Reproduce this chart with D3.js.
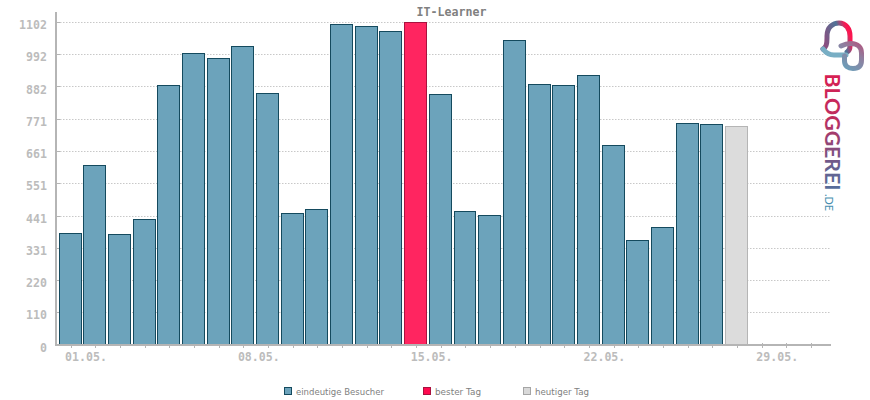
<!DOCTYPE html>
<html><head><meta charset="utf-8">
<script src="https://cdn.jsdelivr.net/npm/d3@7"></script>
<style>html,body{margin:0;padding:0;background:#fff}svg{display:block}</style></head><body>
<svg id="c" width="870" height="400"></svg>
<script>
const chartTitle = "IT-Learner";
const days = d3.range(1, 32);
const visitors = [382,614,379,430,887,996,979,1020,860,450,464,1095,1088,1071,1102,856,457,443,1040,890,887,921,682,358,402,757,754,747,0,0,0];
const bestIndex = 14;
const todayIndex = 27;
const yTickValues = [0,110.2,220.4,330.6,440.8,551,661.2,771.4,881.6,991.8,1102];
const yTickLabels = ["0","110","220","331","441","551","661","771","882","992","1102"];
const xLabels = {1:"01.05.",8:"08.05.",15:"15.05.",22:"22.05.",29:"29.05."};
const legendItems = ["eindeutige Besucher","bester Tag","heutiger Tag"];
const legendColors = [["#6ca3bb","#144a5e"],["#ff0a4f","#a8123f"],["#d9d9d9","#a5a5a5"]];

const svg = d3.select("#c");
const mono = "'DejaVu Sans Mono','Liberation Mono',monospace";
const y = d3.scaleLinear().domain([0,1102]).range([345,22.5]);
const x = d3.scaleBand().domain(days).range([58.2,823.4]).paddingInner(0.07).paddingOuter(0.035);
const cx = d => x(d)+x.bandwidth()/2;

// grid
svg.append("g").selectAll("line").data(yTickValues.slice(1)).join("line")
  .attr("x1",57).attr("x2",830).attr("y1",d=>Math.floor(y(d))+.5).attr("y2",d=>Math.floor(y(d))+.5)
  .attr("stroke","#c8c8c8").attr("stroke-width",1).attr("stroke-dasharray","1.5,1.5");

// y ticks
svg.append("g").selectAll("line").data(yTickValues.slice(1)).join("line")
  .attr("x1",57).attr("x2",60).attr("y1",d=>Math.floor(y(d))+.5).attr("y2",d=>Math.floor(y(d))+.5)
  .attr("stroke","#b5b5b5");

// x ticks
svg.append("g").selectAll("line").data(days).join("line")
  .attr("x1",d=>Math.round(cx(d))+.5).attr("x2",d=>Math.round(cx(d))+.5)
  .attr("y1",343).attr("y2",348).attr("stroke","#b5b5b5").attr("stroke-width",1);

// bars
svg.append("g").selectAll("rect").data(visitors.map((v,i)=>({v,i})).filter(d=>d.v>0)).join("rect")
  .attr("x",d=>Math.floor(x(days[d.i]))+.5)
  .attr("width",d=>Math.floor(x(days[d.i])+x.bandwidth())-Math.floor(x(days[d.i]))-1)
  .attr("y",d=>Math.floor(y(d.v))+.5).attr("height",d=>345-Math.floor(y(d.v)))
  .attr("fill",d=>d.i===bestIndex?"#ff2560":d.i===todayIndex?"#dcdcdc":"#6ca3bb")
  .attr("stroke",d=>d.i===bestIndex?"#a8123f":d.i===todayIndex?"#b5b5b5":"#144a5e")
  .attr("stroke-width",1);

// axes
svg.append("line").attr("x1",56).attr("x2",56).attr("y1",12).attr("y2",346).attr("stroke","#b5b5b5").attr("stroke-width",2);
svg.append("line").attr("x1",55).attr("x2",831).attr("y1",345).attr("y2",345).attr("stroke","#b5b5b5").attr("stroke-width",2);

// y labels
svg.append("g").selectAll("text").data(yTickValues).join("text")
  .attr("x",47).attr("y",d=>y(d)+6.5).attr("text-anchor","end")
  .attr("font-family",mono).attr("font-size",11.6).attr("font-weight","bold").attr("fill","#bcbcbc")
  .text((d,i)=>yTickLabels[i]);

// x labels
svg.append("g").selectAll("text").data(days.filter(d=>xLabels[d])).join("text")
  .attr("x",d=>cx(d)+15.5).attr("y",360.5).attr("text-anchor","middle")
  .attr("font-family",mono).attr("font-size",11.6).attr("font-weight","bold").attr("fill","#bcbcbc")
  .text(d=>xLabels[d]);

// title
svg.append("text").attr("x",451.5).attr("y",16).attr("text-anchor","middle")
  .attr("font-family",mono).attr("font-size",11.6).attr("font-weight","bold").attr("fill","#808080").text(chartTitle);

// legend
const legendX = [284,423,523];
const legendTextLen = [88,46,54];
const lg = svg.append("g").selectAll("g").data(legendItems).join("g")
  .attr("transform",(d,i)=>`translate(${legendX[i]},388)`);
lg.append("rect").attr("x",.5).attr("y",-.5).attr("width",7).attr("height",7)
  .attr("fill",(d,i)=>legendColors[i][0]).attr("stroke",(d,i)=>legendColors[i][1]);
lg.append("text").attr("x",12).attr("y",7).attr("font-family","'DejaVu Sans',sans-serif").attr("font-size",9).attr("fill","#808080")
  .attr("textLength",(d,i)=>legendTextLen[i]).attr("lengthAdjust","spacingAndGlyphs").text(d=>d);

// logo
const defs = svg.append("defs");
const g1 = defs.append("linearGradient").attr("id","lt").attr("gradientUnits","userSpaceOnUse").attr("x1",0).attr("x2",118).attr("y1",0).attr("y2",0);
[[0,"#d81f52"],[.4,"#bb2f60"],[.8,"#66608f"],[1,"#55709c"]].forEach(s=>g1.append("stop").attr("offset",s[0]).attr("stop-color",s[1]));
const g2 = defs.append("linearGradient").attr("id","l1").attr("gradientUnits","userSpaceOnUse").attr("x1",824).attr("x2",856).attr("y1",40).attr("y2",28);
[[0,"#8a4f80"],[.5,"#4f7397"],[.75,"#ff1650"],[1,"#e5134d"]].forEach(s=>g2.append("stop").attr("offset",s[0]).attr("stop-color",s[1]));
const g3 = defs.append("linearGradient").attr("id","l2").attr("gradientUnits","userSpaceOnUse").attr("x1",845).attr("x2",863).attr("y1",68).attr("y2",44);
[[0,"#6c9db8"],[.6,"#8f7f9f"],[1,"#b0567f"]].forEach(s=>g3.append("stop").attr("offset",s[0]).attr("stop-color",s[1]));
const logo = svg.append("g").attr("fill","none").attr("stroke-width",5).attr("stroke-linecap","round");
logo.append("path").attr("d","M823 49 C826 47 827 45 827 38 L827 36 C827 27 833 23 839 23 C846 23 850 29 850 36 L850 46 C850 49 849 51 847 52").attr("stroke","url(#l1)");
logo.append("path").attr("d","M823 49 C826 53 829 55 834 55 L846 55").attr("stroke","#78aec4");
logo.append("path").attr("d","M841 46 C845 44 848 43.5 851 43.5 C858 43.5 861.5 48 861.5 53 L861.5 60 C861.5 66 858 68.5 853 68.5 C848 68.5 844.5 66 844.5 61 L844.5 56").attr("stroke","url(#l2)");
const tg = svg.append("g").attr("font-family","Lato,'Open Sans',sans-serif").attr("font-weight","bold");
tg.append("text").attr("transform","translate(825,73.5) rotate(90)").attr("fill","url(#lt)").attr("font-size",20.5).attr("textLength",117).attr("lengthAdjust","spacingAndGlyphs").text("BLOGGEREI");
tg.append("text").attr("transform","translate(825,194) rotate(90)").attr("fill","#4a8fb0").attr("font-size",10.7).attr("font-weight","normal").attr("textLength",17).attr("lengthAdjust","spacingAndGlyphs").text(".DE");
</script>
</body></html>
